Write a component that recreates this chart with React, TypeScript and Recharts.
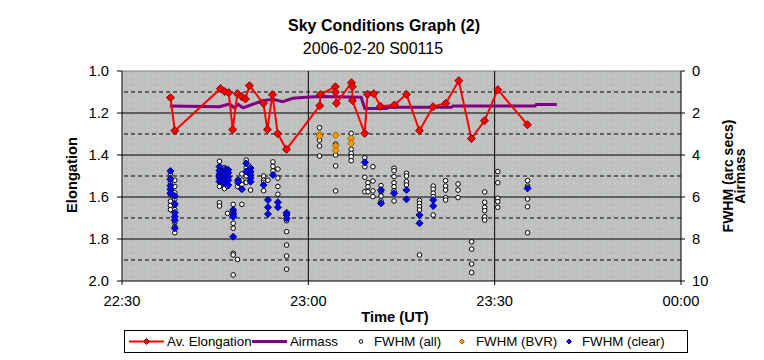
import {
  CartesianGrid,
  ComposedChart,
  Line,
  ReferenceLine,
  Scatter,
  XAxis,
  YAxis,
} from 'recharts'

// minutes after 22:30 UT
const timeTicks = [0, 30, 60, 90]
const timeLabels = ['22:30', '23:00', '23:30', '00:00']
const elongTicks = [1, 1.2, 1.4, 1.6, 1.8, 2]
const fwhmTicks = [0, 1, 2, 3, 4, 5, 6, 7, 8, 9, 10]

const elongTimes = [
  7.8, 8.5, 15.85, 16.54, 17.18, 17.83, 18.58, 19.28, 19.87, 20.52, 22.77, 23.41, 24.22, 25.07,
  26.47, 31.84, 31.95, 34.36, 34.36, 34.52, 36.94, 37.1, 37.1, 39.08, 39.52, 40.53, 41.61, 43.86,
  45.8, 47.89, 50.08, 52.13, 54.22, 56.26, 58.36, 60.5, 65.28,
]
const elongValues = [
  1.127, 1.284, 1.084, 1.098, 1.103, 1.279, 1.108, 1.122, 1.133, 1.07, 1.154, 1.279, 1.113, 1.298,
  1.373, 1.165, 1.111, 1.075, 1.1, 1.154, 1.056, 1.075, 1.141, 1.297, 1.111, 1.108, 1.168, 1.162,
  1.111, 1.284, 1.17, 1.154, 1.046, 1.322, 1.237, 1.089, 1.256,
]

const airmassTimes = [
  7.7, 15.7, 17.3, 18.1, 18.7, 19.5, 22.7, 24.3, 25.9, 27.5, 29.7, 31.8, 38.5, 39.1, 42.6, 42.8,
  53.0, 53.3, 66.5, 66.7, 70.0,
]
const airmassValues = [
  1.67, 1.7, 1.57, 1.75, 1.59, 1.75, 1.41, 1.35, 1.46, 1.3, 1.25, 1.22, 1.25, 1.78, 1.78, 1.73,
  1.73, 1.67, 1.67, 1.6, 1.6,
]

const fwhmAllTimes = [
  7.8, 8.5, 15.7, 16.5, 17.0, 17.9, 18.6, 19.3, 20.0, 20.7, 22.8, 23.5, 24.3, 25.1, 26.5, 31.8,
  34.4, 36.9, 39.1, 39.6, 40.4, 41.7, 43.8, 45.8, 47.9, 50.1, 52.1, 54.1, 56.3, 58.4, 60.5, 65.3,
]
const fwhmAllValues = [
  [4.9, 5.1, 5.3, 5.5, 5.7, 5.9, 6.2, 6.4, 6.6],
  [5.2, 5.5, 5.8, 6.1, 6.4, 6.6, 6.9, 7.2, 7.4, 7.7],
  [4.3, 4.7, 5.0, 5.3, 5.5, 6.27, 6.43],
  [4.6, 5.0, 5.4, 5.6],
  [4.8, 5.5, 6.78],
  [6.35, 6.6, 7.25, 7.49, 8.68, 8.76, 9.71],
  [5.2, 5.5, 8.97],
  [4.9, 5.2, 5.4, 5.6, 6.35],
  [4.24, 4.6, 5.0, 5.3],
  [5.0, 5.67],
  [5.0, 5.2, 5.3, 5.7],
  [5.2],
  [4.33, 4.54, 4.76],
  [4.67, 5.1, 5.5, 5.87],
  [7.13, 7.65, 8.29, 8.81, 9.44],
  [2.7, 3.29, 3.57, 4.05],
  [3.48, 4.0, 4.52, 5.71],
  [2.97, 3.73, 3.92, 4.08, 4.27],
  [4.13, 4.56, 5.06, 5.75],
  [5.32, 5.51, 5.75],
  [4.56, 5.24, 5.71, 5.98],
  [5.46, 5.75, 5.95, 6.19],
  [4.63, 4.75, 5.03, 5.32, 5.51, 5.7, 6.19],
  [4.87, 5.0, 5.27, 5.43],
  [6.17, 6.3, 6.46, 6.62, 8.76],
  [5.48, 5.63, 5.82, 5.98, 6.86],
  [5.22, 5.48, 5.67, 6.03, 6.14],
  [5.38, 5.67, 6.03],
  [8.13, 8.48, 9.19, 9.6],
  [5.76, 6.25, 6.49, 6.65, 6.94, 7.1],
  [4.79, 5.32, 6.06, 6.22, 6.49],
  [5.22, 5.48, 6.1, 6.46, 7.7],
]

const fwhmBvrTimes = [31.8, 34.4, 36.9]
const fwhmBvrValues = [
  [3.0, 3.1],
  [3.06, 3.57, 3.79],
  [3.21, 3.44],
]

const fwhmClearTimes = [
  7.8, 8.5, 15.7, 16.2, 16.6, 17.1, 17.9, 18.7, 19.3, 20.0, 20.7, 22.8, 23.5, 24.3, 25.1, 26.5,
  39.1, 41.7, 43.8, 45.8, 47.9, 50.1, 65.3,
]
const fwhmClearValues = [
  [4.76, 5.16, 5.46, 5.63, 5.82],
  [5.95, 6.33, 6.75, 6.94, 7.1, 7.49],
  [4.55, 4.75, 4.9, 5.0, 5.1, 5.25],
  [4.8, 5.0, 5.15, 5.3],
  [4.7, 4.9, 5.05, 5.2, 5.35],
  [4.7, 4.85, 5.05, 5.2, 5.43],
  [6.62, 6.75, 6.85, 6.94, 7.89],
  [5.2, 5.3],
  [5.63],
  [4.4, 4.79],
  [4.62, 4.8, 4.95, 5.1, 5.27],
  [5.43],
  [6.14, 6.49, 6.81],
  [4.95],
  [6.25, 6.49],
  [6.75, 6.86, 7.02],
  [4.35],
  [5.67, 6.3],
  [5.82],
  [5.67, 6.11],
  [6.86, 7.25],
  [6.14, 6.43],
  [5.59],
]

const pairs = (times: number[], values: number[]) => times.map((t, i) => ({ t, v: values[i] }))
const columns = (times: number[], values: number[][]) =>
  times.flatMap((t, i) => values[i].map((v) => ({ t, v })))

const elongData = pairs(elongTimes, elongValues)
const airmassData = pairs(airmassTimes, airmassValues)
const allData = columns(fwhmAllTimes, fwhmAllValues)
const bvrData = columns(fwhmBvrTimes, fwhmBvrValues)
const clearData = columns(fwhmClearTimes, fwhmClearValues)

const FONT = '"Liberation Sans", Arial, sans-serif'
const tickStyle = { fontSize: 14.7, fill: '#000', fontFamily: FONT }

function diamond(cx: number, cy: number, r: number, fill: string, stroke: string, key?: any) {
  return (
    <path
      key={key}
      d={`M${cx},${cy - r}L${cx + r},${cy}L${cx},${cy + r}L${cx - r},${cy}Z`}
      fill={fill}
      stroke={stroke}
      strokeWidth={1}
    />
  )
}

function Overlay() {
  const t = { fontFamily: FONT, fill: '#000' }
  return (
    <svg
      width={764}
      height={360}
      style={{ position: 'absolute', left: 0, top: 0, pointerEvents: 'none' }}
    >
      <text x={384} y={31} textAnchor="middle" fontSize={16} fontWeight="bold" {...t}>
        Sky Conditions Graph (2)
      </text>
      <text x={373} y={54} textAnchor="middle" fontSize={16} {...t}>
        2006-02-20 S00115
      </text>
      <text x={395} y={322} textAnchor="middle" fontSize={14.7} fontWeight="bold" {...t}>
        Time (UT)
      </text>
      <text
        transform="translate(77,175) rotate(-90)"
        textAnchor="middle"
        fontSize={14.7}
        fontWeight="bold"
        {...t}
      >
        Elongation
      </text>
      <text
        transform="translate(733,176) rotate(-90)"
        textAnchor="middle"
        fontSize={14}
        fontWeight="bold"
        {...t}
      >
        FWHM (arc secs)
      </text>
      <text
        transform="translate(745,176) rotate(-90)"
        textAnchor="middle"
        fontSize={14}
        fontWeight="bold"
        {...t}
      >
        Airmass
      </text>

      <rect x={124.5} y={330.5} width={563} height={22} fill="#fff" stroke="#000" />
      <line x1={129} x2={164} y1={341.5} y2={341.5} stroke="#ff0000" strokeWidth={2} />
      {diamond(146.5, 341.5, 3, '#ff0000', '#800000')}
      <text x={167} y={346} fontSize={13.3} {...t}>Av. Elongation</text>
      <line x1={252} x2={287} y1={341.5} y2={341.5} stroke="#800080" strokeWidth={3} />
      <text x={290} y={346} fontSize={13.3} {...t}>Airmass</text>
      <circle cx={361} cy={341.5} r={1.8} fill="#fff" stroke="#000" />
      <text x={374} y={346} fontSize={13.3} {...t}>FWHM (all)</text>
      {diamond(462, 341.5, 2.5, '#ff9900', '#996600')}
      <text x={476} y={346} fontSize={13.3} {...t}>FWHM (BVR)</text>
      {diamond(569, 341.5, 2.5, '#0000ff', '#000080')}
      <text x={582} y={346} fontSize={13.3} {...t}>FWHM (clear)</text>
    </svg>
  )
}

export default function App() {
  return (
    <div
      style={{
        position: 'absolute',
        left: 0,
        top: 0,
        width: 764,
        height: 360,
        background: '#fff',
      }}
    >
      <svg width={0} height={0} style={{ position: 'absolute' }}>
        <defs>
          <pattern id="dots" width={6} height={6} patternUnits="userSpaceOnUse">
            <rect width={6} height={6} fill="#c0c0c0" />
            <rect x={0} y={0} width={1} height={1} fill="#9ccf9c" />
            <rect x={3} y={3} width={1} height={1} fill="#d8d8d8" />
          </pattern>
        </defs>
      </svg>
      <ComposedChart
        width={764}
        height={360}
        margin={{ top: 71, right: 43, bottom: 49, left: 62 }}
      >
        <CartesianGrid
          yAxisId="right"
          horizontal={false}
          vertical={false}
          fill="url(#dots)"
          fillOpacity={1}
        />
        <XAxis
          dataKey="t"
          type="number"
          domain={[0, 90]}
          ticks={timeTicks}
          allowDataOverflow
          tickFormatter={(v) => timeLabels[timeTicks.indexOf(v)]}
          height={30}
          tick={tickStyle}
          tickSize={4}
          tickMargin={11}
          stroke="#000"
        />
        <YAxis
          yAxisId="left"
          domain={[1, 2]}
          reversed
          ticks={elongTicks}
          tickFormatter={(v) => v.toFixed(1)}
          width={60}
          tick={tickStyle}
          tickSize={5}
          tickMargin={8}
          stroke="#000"
          allowDataOverflow
        />
        <YAxis
          yAxisId="right"
          orientation="right"
          domain={[0, 10]}
          reversed
          ticks={fwhmTicks}
          width={40}
          tick={{ ...tickStyle, textAnchor: 'start' }}
          tickSize={4}
          tickMargin={7}
          stroke="#000"
          allowDataOverflow
        />
        {fwhmTicks.slice(0, 10).map((v) => (
          <ReferenceLine
            key={`h${v}`}
            yAxisId="right"
            y={v}
            stroke={v === 0 ? '#808080' : '#000'}
            strokeDasharray={v % 2 === 1 ? '4 3' : undefined}
          />
        ))}
        <ReferenceLine yAxisId="right" x={30} stroke="#000" />
        <ReferenceLine yAxisId="right" x={60} stroke="#000" />
        <Line
          yAxisId="right"
          data={airmassData}
          dataKey="v"
          stroke="#800080"
          strokeWidth={3}
          dot={false}
          isAnimationActive={false}
          type="linear"
        />
        <Line
          yAxisId="left"
          data={elongData}
          dataKey="v"
          stroke="#ff0000"
          strokeWidth={2}
          dot={(p: any) => diamond(p.cx, p.cy, 4, '#ff0000', '#800000', `e${p.index}`)}
          isAnimationActive={false}
          type="linear"
        />
        <Scatter
          yAxisId="right"
          data={allData}
          dataKey="v"
          isAnimationActive={false}
          shape={(p: any) => <circle cx={p.cx} cy={p.cy} r={2.3} fill="#fff" stroke="#000" />}
        />
        <Scatter
          yAxisId="right"
          data={bvrData}
          dataKey="v"
          isAnimationActive={false}
          shape={(p: any) => diamond(p.cx, p.cy, 3.5, '#ff9900', '#996600')}
        />
        <Scatter
          yAxisId="right"
          data={clearData}
          dataKey="v"
          isAnimationActive={false}
          shape={(p: any) => diamond(p.cx, p.cy, 3.5, '#0000ff', '#000080')}
        />
      </ComposedChart>
      <Overlay />
    </div>
  )
}
